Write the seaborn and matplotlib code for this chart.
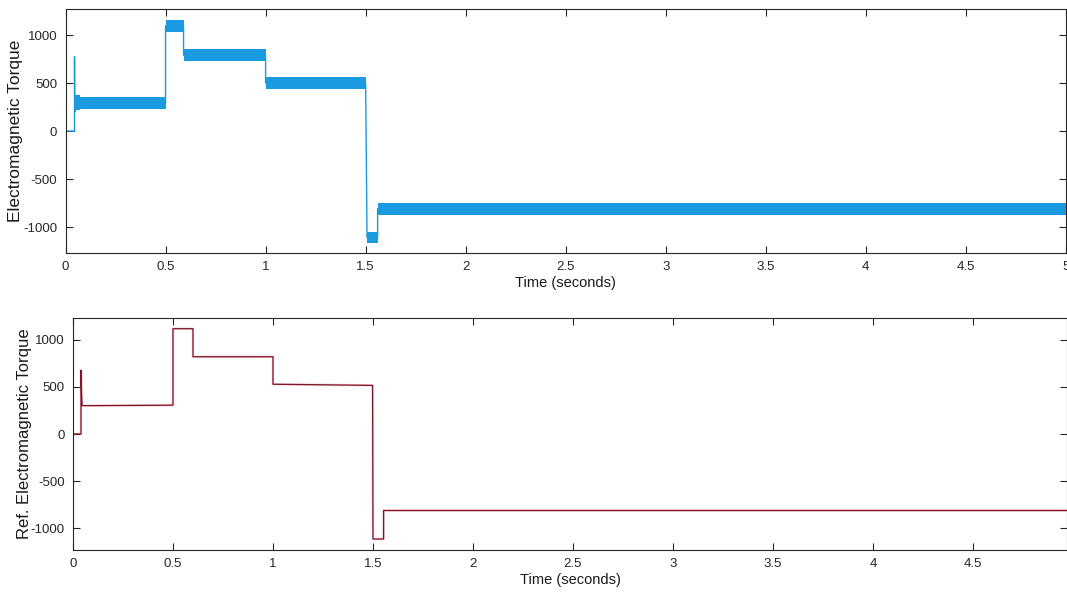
import numpy as np
import pandas as pd
import matplotlib
matplotlib.use("Agg")
import matplotlib.pyplot as plt
import seaborn as sns

# ---------------- data ----------------
# Top: electromagnetic torque (noisy band around piecewise levels)
top_seg_start = [0.000, 0.046, 0.070, 0.500, 0.590, 1.000, 1.507, 1.560]
top_seg_end   = [0.046, 0.070, 0.500, 0.590, 1.000, 1.500, 1.560, 5.000]
top_level     = [0,     300,   290,   1095,  790,   500,   -1110, -808]
top_band      = [0,     80,    62,    60,    60,    65,    55,    62]
top_spike_t   = [0.045, 0.045, 0.046]
top_spike_v   = [0,     775,   200]

# Bottom: reference electromagnetic torque (clean step signal)
bot_seg_start = [0.000, 0.046, 0.500, 0.600, 1.000, 1.500, 1.553]
bot_seg_end   = [0.040, 0.500, 0.600, 1.000, 1.498, 1.553, 4.970]
bot_level_beg = [0,     300,   1115,  818,   527,   -1112, -810]
bot_level_end = [0,     305,   1115,  818,   515,   -1112, -810]
bot_spike_t   = [0.040, 0.040, 0.043, 0.046]
bot_spike_v   = [0,     675,   420,   300]

top_x_ticks = [0, 0.5, 1, 1.5, 2, 2.5, 3, 3.5, 4, 4.5, 5]
top_x_labels = ["0", "0.5", "1", "1.5", "2", "2.5", "3", "3.5", "4", "4.5", "5"]
bot_x_ticks = [0, 0.5, 1, 1.5, 2, 2.5, 3, 3.5, 4, 4.5]
bot_x_labels = ["0", "0.5", "1", "1.5", "2", "2.5", "3", "3.5", "4", "4.5"]
y_ticks = [-1000, -500, 0, 500, 1000]
y_tick_labels = ["-1000", "-500", "0", "500", "1000"]

# ---------------- build line tables ----------------
def build_top():
    t, v = [], []
    t += [top_seg_start[0], top_seg_end[0]]
    v += [top_level[0], top_level[0]]
    t += top_spike_t
    v += top_spike_v
    for s, e, lv in zip(top_seg_start[1:], top_seg_end[1:], top_level[1:]):
        t += [s, e]
        v += [lv, lv]
    return pd.DataFrame({"t": t, "v": v})

def build_bot():
    t, v = [], []
    t += [bot_seg_start[0], bot_seg_end[0]]
    v += [bot_level_beg[0], bot_level_end[0]]
    t += bot_spike_t
    v += bot_spike_v
    for s, e, a, b in zip(bot_seg_start[1:], bot_seg_end[1:], bot_level_beg[1:], bot_level_end[1:]):
        t += [s, e]
        v += [a, b]
    return pd.DataFrame({"t": t, "v": v})

top_df = build_top()
bot_df = build_bot()

# ---------------- style ----------------
sns.set_style("ticks")
plt.rcParams["font.family"] = ["Liberation Sans", "DejaVu Sans"]

blue = "#1a9ae0"
red = "#7e1426"
tick_col = "#262626"

fig = plt.figure(figsize=(10.67, 5.96), dpi=100)
ax1 = fig.add_axes([0.0614, 0.5755, 0.9376, 0.4095])
ax2 = fig.add_axes([0.0684, 0.0772, 0.9316, 0.3892])

# top
sns.lineplot(data=top_df, x="t", y="v", estimator=None, sort=False,
             color=blue, linewidth=1.0, ax=ax1)
for s, e, lv, bw in zip(top_seg_start, top_seg_end, top_level, top_band):
    if bw > 0:
        ax1.fill_between([s, e], [lv - bw, lv - bw], [lv + bw, lv + bw],
                         color=blue, linewidth=0)

# bottom
sns.lineplot(data=bot_df, x="t", y="v", estimator=None, sort=False,
             color="#e07080", linewidth=1.8, alpha=0.3, ax=ax2)
sns.lineplot(data=bot_df, x="t", y="v", estimator=None, sort=False,
             color=red, linewidth=0.9, ax=ax2)

cfg = [(ax1, top_x_ticks, top_x_labels, (0, 5), (-1270, 1272), "Electromagnetic Torque", 12.5),
       (ax2, bot_x_ticks, bot_x_labels, (0, 4.97), (-1228, 1228), "Ref. Electromagnetic Torque", 12)]
for ax, xt, xl, xlim, ylim, ylab, yfs in cfg:
    ax.set_xticks(xt)
    ax.set_xticklabels(xl)
    ax.set_yticks(y_ticks)
    ax.set_yticklabels(y_tick_labels)
    ax.set_xlim(*xlim)
    ax.set_ylim(*ylim)
    ax.tick_params(axis="both", which="both", direction="in", length=5, width=0.8,
                   colors=tick_col, labelsize=9.5, top=True, right=True, pad=6)
    ax.set_xlabel("Time (seconds)", fontsize=10.5, color="#1a1a1a", labelpad=2)
    ax.set_ylabel(ylab, fontsize=yfs, color="#1a1a1a")
    for sp in ax.spines.values():
        sp.set_visible(True)
        sp.set_color("#262626")
        sp.set_linewidth(0.8)
    ax.set_facecolor("white")
    if ax.get_legend():
        ax.get_legend().remove()

ax1.yaxis.set_label_coords(-0.0425, 0.5)
ax2.yaxis.set_label_coords(-0.041, 0.5)

fig.savefig("out.png", dpi=100, facecolor="white")
